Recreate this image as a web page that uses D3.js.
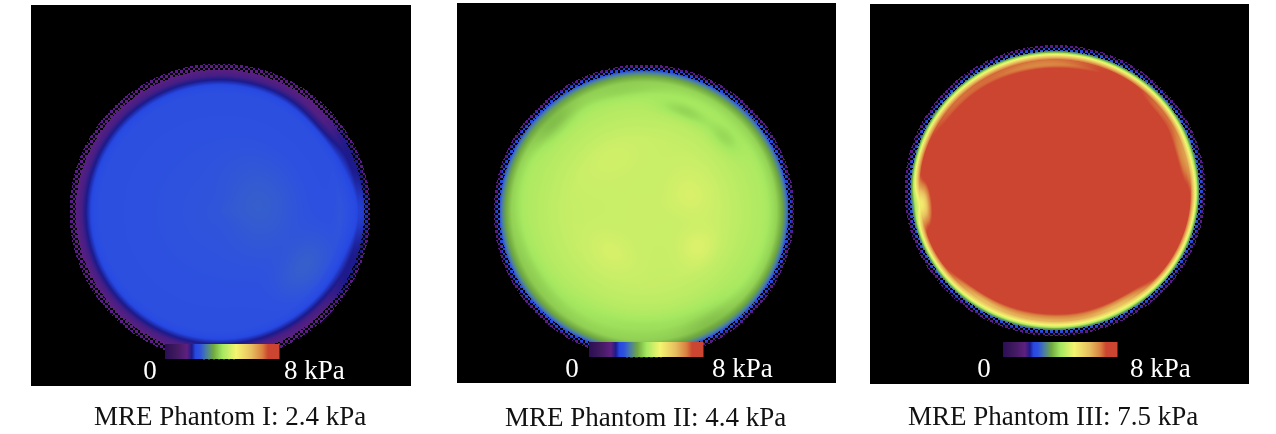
<!DOCTYPE html>
<html>
<head>
<meta charset="utf-8">
<script src="https://cdn.jsdelivr.net/npm/d3@7"></script>
<style>
html,body{margin:0;padding:0;background:#fff;width:1276px;height:434px;overflow:hidden}
#wrap{position:relative;width:1276px;height:434px}
canvas{position:absolute;filter:blur(0.5px)}
svg{position:absolute;left:0;top:0}
text{font-family:"Liberation Serif","Times New Roman",serif;filter:blur(0.3px)}
</style>
</head>
<body>
<div id="wrap"></div>
<script>
// ---- data ----
const phantomNames = ["MRE Phantom I: 2.4 kPa","MRE Phantom II: 4.4 kPa","MRE Phantom III: 7.5 kPa"];
const scaleMinLabel = "0";
const scaleMaxLabel = "8 kPa";

// colour bar: stiffness (kPa) and the colour at that stiffness
const colourStops = [0,0.8,1.5,1.85,2.1,2.4,2.88,3.36,4,4.96,6,6.8,7.2,8];
const colourValues = ["#2b0f55","#421a60","#5e2080","#1c1a8c","#2648e2","#2d50e0","#4a7fa0","#6fa83f","#a5e860","#f5f570","#e8c060","#d88040","#cc4530","#cc4530"];
const rimColour = "#5a1a8c";

// radial stiffness profiles: fraction of phantom radius -> kPa
const radiiI   = [0,0.5,0.8,0.84,0.87,0.895,0.92,0.97,1];
const kpaI     = [2.45,2.4,2.36,2.22,2.0,1.82,1.62,1.5,1.5];
const radiiII  = [0,0.5,0.8,0.88,0.92,0.945,0.965,0.98,1];
const kpaII    = [4.45,4.4,4.1,3.8,3.35,2.85,2.2,2.05,1.8];
const radiiIII = [0,0.88,0.9,0.92,0.935,0.95,0.965,0.98,1];
const kpaIII   = [7.7,7.7,7.4,6.0,4.9,3.5,2.4,2.05,1.6];

// local deviations: [angle deg clockwise from east, radius fraction, angular width deg, radial width, kPa change]
const patchesI = [[0,0.97,13,0.09,0.5],[-28,0.96,8,0.05,0.25],[28,0.98,8,0.05,0.3],[33,0.68,14,0.1,0.17],[-10,0.28,40,0.16,0.12],[-40,0.88,10,0.04,-0.15]];
const patchesII = [[-68,0.73,10,0.04,-0.35],[-135,0.83,9,0.05,-0.35],[-43,0.73,7,0.05,-0.3],[-100,0.82,14,0.04,-0.2],[-21,0.33,20,0.1,0.2],[34,0.43,12,0.08,0.25],[128,0.35,18,0.08,0.18],[-120,0.42,22,0.1,0.1],[90,0.78,30,0.06,-0.2],[60,0.85,10,0.05,-0.2],[150,0.83,18,0.05,-0.15]];
const patchesIII = [[174,0.885,6,0.035,-2.4],[95,0.89,24,0.03,-1.3],[60,0.89,10,0.025,-1.0],[125,0.89,10,0.02,-0.8],[-15,0.885,10,0.035,-1.1],[-40,0.88,9,0.02,-0.6],[-95,0.87,22,0.025,-1.0],[-140,0.88,16,0.02,-0.6]];

const radiiList = [radiiI, radiiII, radiiIII];
const kpaList = [kpaI, kpaII, kpaIII];
const patchList = [patchesI, patchesII, patchesIII];

// ---- layout ----
const frames = [
  {x:31, y:5, w:380, h:381, cx:219.5, cy:211.5, rx:150.5, ry:148.5, bar:[165,344], zero:150, zeroY:379, max:284, maxY:379, capX:94, capY:425},
  {x:457,y:3, w:379, h:380, cx:643.5, cy:211,   rx:150.5, ry:147,   bar:[589,342], zero:572, zeroY:377, max:712, maxY:377, capX:505,capY:426},
  {x:870,y:4, w:379, h:380, cx:1054.5,cy:190,   rx:150.5, ry:145.5, bar:[1003,342],zero:984, zeroY:377, max:1130,maxY:377, capX:908,capY:425}
];
const barW = 114, barH = 15, ditherFrom = 0.958, ditherCell = 2.5, rimFrom = 0.982;

const colour = d3.scaleLinear().domain(colourStops).range(colourValues).interpolate(d3.interpolateRgb).clamp(true);
const rim = d3.rgb(rimColour);
const wrap = d3.select("#wrap");

frames.forEach((f,i)=>{
  const canvas = wrap.append("canvas").attr("width",f.w).attr("height",f.h)
    .style("left",f.x+"px").style("top",f.y+"px");
  const ctx = canvas.node().getContext("2d");
  const img = ctx.createImageData(f.w,f.h);
  const profile = d3.scaleLinear().domain(radiiList[i]).range(kpaList[i]).clamp(true);
  const patches = patchList[i];
  for(let py=0;py<f.h;py++){
    for(let px=0;px<f.w;px++){
      const k=(py*f.w+px)*4;
      img.data[k+3]=255;
      const X=px+f.x, Y=py+f.y;
      const dx=(X-f.cx)/f.rx, dy=(Y-f.cy)/f.ry;
      const r=Math.hypot(dx,dy);
      if(r>1) continue;
      if(r>ditherFrom && (Math.floor(X/ditherCell)+Math.floor(Y/ditherCell))%2===1) continue;
      const a=Math.atan2(dy,dx)*180/Math.PI;
      let v=profile(r);
      for(const p of patches){
        let da=a-p[0]; da=((da+540)%360)-180;
        const dr=r-p[1];
        v+=p[4]*Math.exp(-(da*da)/(2*p[2]*p[2])-(dr*dr)/(2*p[3]*p[3]));
      }
      const c=r>rimFrom?rim:d3.rgb(colour(v));
      img.data[k]=c.r; img.data[k+1]=c.g; img.data[k+2]=c.b;
    }
  }
  ctx.putImageData(img,0,0);
});

const svg = wrap.append("svg").attr("width",1276).attr("height",434);

frames.forEach((f,i)=>{
  const g = svg.append("g");
  // colour bar
  const barX = d3.scaleLinear().domain([0,8]).range([f.bar[0],f.bar[0]+barW]);
  const steps = d3.range(0,barW).map(n=>n/barW*8);
  g.selectAll("rect.bar").data(steps).join("rect").attr("class","bar")
    .attr("x",d=>barX(d)).attr("y",f.bar[1])
    .attr("width",barW/steps.length+0.5).attr("height",barH)
    .attr("fill",d=>colour(d));
  g.append("text").attr("x",f.zero).attr("y",f.zeroY).attr("text-anchor","middle")
    .attr("font-size",27).attr("fill","#fff").text(scaleMinLabel);
  g.append("text").attr("x",f.max).attr("y",f.maxY)
    .attr("font-size",27).attr("fill","#fff").text(scaleMaxLabel);
  g.append("text").attr("x",f.capX).attr("y",f.capY)
    .attr("font-size",27).attr("fill","#111").text(phantomNames[i]);
});
</script>
</body>
</html>
